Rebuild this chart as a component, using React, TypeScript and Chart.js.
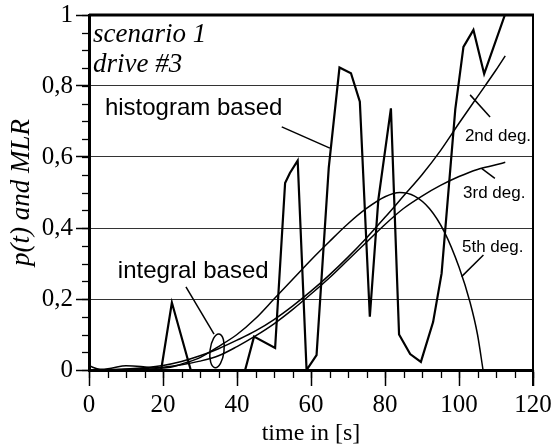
import React, { useEffect, useRef } from 'react';
import { Chart, registerables } from 'chart.js';

Chart.register(...registerables);

// ---- data ----
const histT = [0, 19.5, 22.4, 27.5, 42.2, 44.6, 50.3, 53.0, 54.3, 56.4, 58.8, 61.5, 64.8, 67.7, 70.8, 73.2, 75.9, 78.2, 81.6, 83.8, 86.8, 89.7, 93.0, 95.3, 99.0, 101.2, 103.9, 106.8, 112.4];
const histP = [0, 0, 0.19, 0, 0, 0.094, 0.062, 0.527, 0.555, 0.59, 0, 0.042, 0.57, 0.852, 0.836, 0.756, 0.15, 0.48, 0.737, 0.1, 0.045, 0.023, 0.135, 0.272, 0.735, 0.91, 0.958, 0.834, 1.0];

const deg2T = [0, 10, 20, 25, 30, 35, 40, 45, 50, 55, 60, 65, 70, 75, 80, 85, 90, 95, 100, 105, 110, 112.5];
const deg2P = [0, 0.003, 0.013, 0.024, 0.04, 0.06, 0.084, 0.11, 0.142, 0.18, 0.222, 0.268, 0.318, 0.372, 0.43, 0.49, 0.55, 0.618, 0.695, 0.77, 0.845, 0.885];

const deg3T = [0, 10, 20, 25, 30, 35, 40, 45, 50, 55, 60, 65, 70, 75, 80, 85, 90, 95, 100, 105, 110, 112.5];
const deg3P = [0, 0.002, 0.008, 0.015, 0.025, 0.04, 0.066, 0.096, 0.13, 0.17, 0.214, 0.26, 0.31, 0.36, 0.41, 0.455, 0.49, 0.52, 0.545, 0.565, 0.578, 0.585];

const deg5T = [0, 3, 6, 10, 14, 18, 22, 26, 30, 35, 40, 45, 50, 55, 60, 65, 70, 75, 80, 84, 88, 92, 96, 100, 103, 105, 106.5];
const deg5P = [0.012, 0.002, 0.005, 0.012, 0.01, 0.005, 0.008, 0.02, 0.035, 0.066, 0.1, 0.145, 0.2, 0.255, 0.31, 0.362, 0.412, 0.455, 0.488, 0.5, 0.49, 0.455, 0.39, 0.29, 0.19, 0.1, 0];

const xTickValues = [0, 20, 40, 60, 80, 100, 120];
const yTickLabels = ['0', '0,2', '0,4', '0,6', '0,8', '1'];

// ---- annotations (text in data coordinates) ----
const annoTexts = [
  { text: 'scenario 1', t: 1.1, p: 0.925, font: 'italic 27px "Liberation Serif"' },
  { text: 'drive #3', t: 1.1, p: 0.84, font: 'italic 27px "Liberation Serif"' },
  { text: 'histogram based', t: 4.3, p: 0.718, font: '24px "Liberation Sans"' },
  { text: 'integral based', t: 7.8, p: 0.258, font: '24px "Liberation Sans"' },
  { text: '2nd deg.', t: 101.6, p: 0.645, font: '17px "Liberation Sans"' },
  { text: '3rd deg.', t: 101.1, p: 0.485, font: '17px "Liberation Sans"' },
  { text: '5th deg.', t: 100.8, p: 0.331, font: '17px "Liberation Sans"' },
];
const annoLines = [
  [52.1, 0.685, 65.1, 0.625],
  [26.2, 0.234, 33.8, 0.101],
  [103.0, 0.775, 108.4, 0.713],
  [106.1, 0.568, 109.7, 0.54],
  [106.6, 0.324, 100.7, 0.263],
];
const ellipseAt = { t: 34.6, p: 0.054 };

const pts = (t: number[], p: number[]) => t.map((x, i) => ({ x, y: p[i] }));

const decor = {
  id: 'decor',
  afterDraw(chart: any) {
    const { ctx, chartArea: a, scales } = chart;
    const xs = scales.x;
    const ys = scales.y;
    ctx.save();
    ctx.strokeStyle = '#000';
    ctx.fillStyle = '#000';
    // minor ticks
    ctx.lineWidth = 1.3;
    for (let i = 0; i <= 20; i++) {
      const py = Math.round(ys.getPixelForValue(i * 0.05)) + 0.5;
      ctx.beginPath();
      ctx.moveTo(a.left - 7, py);
      ctx.lineTo(a.left + 2, py);
      ctx.stroke();
    }
    for (let i = 0; i <= 24; i++) {
      const px = Math.round(xs.getPixelForValue(i * 5)) + 0.5;
      ctx.beginPath();
      ctx.moveTo(px, a.bottom);
      ctx.lineTo(px, a.bottom + 8);
      ctx.stroke();
    }
    // top and right frame
    ctx.lineWidth = 3;
    ctx.beginPath();
    ctx.moveTo(a.left, a.top);
    ctx.lineTo(a.right + 1, a.top);
    ctx.stroke();
    ctx.lineWidth = 2;
    ctx.beginPath();
    ctx.moveTo(a.right, a.top);
    ctx.lineTo(a.right, a.bottom + 16);
    ctx.stroke();
    // annotation pointer lines
    ctx.lineWidth = 1.5;
    annoLines.forEach(([t1, p1, t2, p2]) => {
      ctx.beginPath();
      ctx.moveTo(xs.getPixelForValue(t1), ys.getPixelForValue(p1));
      ctx.lineTo(xs.getPixelForValue(t2), ys.getPixelForValue(p2));
      ctx.stroke();
    });
    // ellipse
    ctx.beginPath();
    ctx.ellipse(xs.getPixelForValue(ellipseAt.t), ys.getPixelForValue(ellipseAt.p), 7, 17, 0.12, 0, Math.PI * 2);
    ctx.stroke();
    // annotation texts
    ctx.textBaseline = 'alphabetic';
    ctx.textAlign = 'left';
    annoTexts.forEach((o) => {
      ctx.font = o.font;
      ctx.fillText(o.text, xs.getPixelForValue(o.t), ys.getPixelForValue(o.p));
    });
    ctx.restore();
  },
};

export default function App() {
  const ref = useRef<HTMLCanvasElement | null>(null);
  useEffect(() => {
    document.body.style.margin = '0';
    const canvas = ref.current!;
    const chart = new Chart(canvas, {
      type: 'line',
      data: {
        datasets: [
          { data: pts(histT, histP), borderColor: '#000', borderWidth: 2.2, tension: 0, pointRadius: 0 },
          { data: pts(deg2T, deg2P), borderColor: '#000', borderWidth: 1.5, cubicInterpolationMode: 'monotone', pointRadius: 0 },
          { data: pts(deg3T, deg3P), borderColor: '#000', borderWidth: 1.5, cubicInterpolationMode: 'monotone', pointRadius: 0 },
          { data: pts(deg5T, deg5P), borderColor: '#000', borderWidth: 1.5, cubicInterpolationMode: 'monotone', pointRadius: 0 },
        ],
      },
      options: {
        responsive: false,
        animation: false,
        events: [],
        layout: { padding: { top: 15, right: 19, left: 0, bottom: 0 } },
        plugins: { legend: { display: false }, tooltip: { enabled: false } },
        scales: {
          x: {
            type: 'linear',
            min: 0,
            max: 120,
            afterBuildTicks: (s: any) => { s.ticks = xTickValues.map((v) => ({ value: v })); },
            afterFit: (s: any) => { s.height = 76; s.paddingLeft = 0; s.paddingRight = 0; },
            ticks: {
              color: '#000',
              padding: 4,
              maxRotation: 0,
              autoSkip: false,
              font: { family: '"Liberation Serif"', size: 25 },
            },
            grid: { drawOnChartArea: false, tickLength: 16, tickColor: '#000', tickWidth: 1.5 },
            border: { color: '#000', width: 3 },
            title: {
              display: true,
              text: 'time in [s]',
              color: '#000',
              padding: { top: 0, bottom: 0 },
              font: { family: '"Liberation Serif"', size: 24, lineHeight: 1 },
            },
          },
          y: {
            min: 0,
            max: 1,
            afterBuildTicks: (s: any) => { s.ticks = yTickLabels.map((_, i) => ({ value: i * 0.2 })); },
            afterFit: (s: any) => { s.width = 89; s.paddingTop = 0; s.paddingBottom = 0; },
            ticks: {
              color: '#000',
              padding: 3,
              autoSkip: false,
              callback: (_v: any, i: number) => yTickLabels[i],
              font: { family: '"Liberation Serif"', size: 25 },
            },
            grid: { color: 'rgba(0,0,0,0.8)', lineWidth: 1, tickLength: 13, tickColor: '#000', tickWidth: 1.5 },
            border: { color: '#000', width: 3 },
            title: {
              display: true,
              text: 'p(t) and MLR',
              color: '#000',
              padding: { top: 8, bottom: 0 },
              font: { family: '"Liberation Serif"', size: 27, style: 'italic', lineHeight: 1 },
            },
          },
        },
      },
      plugins: [decor],
    } as any);
    return () => chart.destroy();
  }, []);
  return (
    <div style={{ position: 'fixed', left: 0, top: 0, width: 552, height: 446, background: '#fff' }}>
      <canvas ref={ref} width={552} height={446} style={{ display: 'block' }} />
    </div>
  );
}
